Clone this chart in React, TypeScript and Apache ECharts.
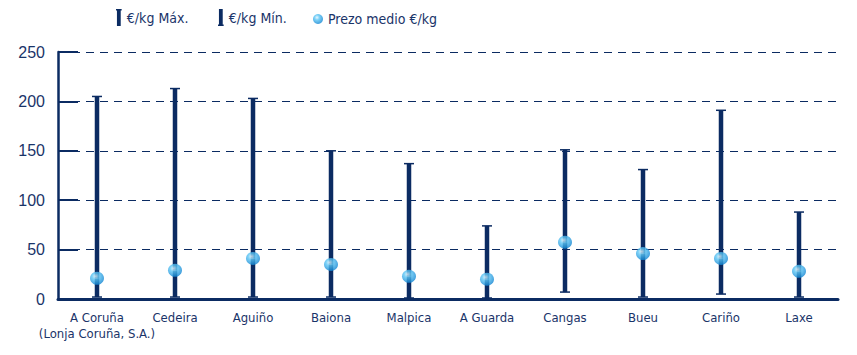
import React, { useEffect, useRef } from "react";
import * as echarts from "echarts";

const categories = [
  "A Coruña\n(Lonja Coruña, S.A.)",
  "Cedeira",
  "Aguiño",
  "Baiona",
  "Malpica",
  "A Guarda",
  "Cangas",
  "Bueu",
  "Cariño",
  "Laxe",
];
const maxValues = [205, 213, 203, 150, 137, 74, 151, 131, 191, 88];
const minValues = [2, 2, 2, 2, 1, 1, 7, 2, 5, 2];
const meanValues = [21, 29, 41, 35, 23, 20, 57.5, 46, 41, 28];
const yTicks = { min: 0, max: 250, interval: 50 };
const seriesNames = ["€/kg Máx.", "€/kg Mín.", "Prezo medio €/kg"];

const NAVY = "#0b2b62";
const TEXT = "#1a3469";
const NARROW = "'DejaVu Sans Condensed', 'Liberation Sans Narrow', sans-serif";
const FONT = "'Liberation Sans', Arial, sans-serif";

const maxIcon = "path://M0,0 L6,0 L6,1.5 L5,1.5 L5,18 L1,18 L1,1.5 L0,1.5 Z";
const minIcon = "path://M1,0 L5,0 L5,16.5 L6,16.5 L6,18 L0,18 L0,16.5 L1,16.5 Z";

const dotGradient = () =>
  new echarts.graphic.RadialGradient(0.4, 0.35, 0.7, [
    { offset: 0, color: "#e6f7ff" },
    { offset: 0.35, color: "#5cc6f5" },
    { offset: 1, color: "#0a7fcf" },
  ]);

function makeRender(capAtTop: boolean) {
  return (params: any, api: any) => {
    const x = api.value(0);
    const lo = api.value(1);
    const hi = api.value(2);
    const pTop = api.coord([x, hi]);
    const pBot = api.coord([x, lo]);
    const capY = capAtTop ? pTop[1] : pBot[1];
    return {
      type: "group",
      children: [
        {
          type: "line",
          shape: { x1: pTop[0], y1: pTop[1], x2: pBot[0], y2: pBot[1] },
          style: { stroke: NAVY, lineWidth: 4.5 },
        },
        {
          type: "line",
          shape: { x1: pTop[0] - 5, y1: capY, x2: pTop[0] + 5, y2: capY },
          style: { stroke: NAVY, lineWidth: 1.5 },
        },
      ],
    };
  };
}

export default function App() {
  const ref = useRef<HTMLDivElement>(null);
  useEffect(() => {
    if (!ref.current) return;
    const chart = echarts.init(ref.current, undefined, { renderer: "svg" });
    const maxData = categories.map((_, i) => [i, meanValues[i], maxValues[i]]);
    const minData = categories.map((_, i) => [i, minValues[i], meanValues[i]]);
    const legendText = { color: TEXT, fontSize: 14, fontFamily: NARROW };
    chart.setOption({
      animation: false,
      backgroundColor: "#ffffff",
      textStyle: { fontFamily: FONT },
      legend: [
        {
          top: 9,
          left: 116,
          padding: 0,
          itemWidth: 6,
          itemHeight: 17,
          textStyle: legendText,
          data: [{ name: seriesNames[0], icon: maxIcon, itemStyle: { color: NAVY } }],
        },
        {
          top: 9,
          left: 218,
          padding: 0,
          itemWidth: 6,
          itemHeight: 17,
          textStyle: legendText,
          data: [{ name: seriesNames[1], icon: minIcon, itemStyle: { color: NAVY } }],
        },
        {
          top: 12,
          left: 313,
          padding: 0,
          itemWidth: 10,
          itemHeight: 11,
          textStyle: legendText,
          data: [{ name: seriesNames[2], icon: "circle" }],
        },
      ],
      grid: { left: 58, right: 19, top: 52, bottom: 56, containLabel: false },
      xAxis: {
        type: "category",
        data: categories,
        axisLine: { lineStyle: { color: NAVY, width: 3 } },
        axisTick: { show: false },
        axisLabel: { color: TEXT, fontSize: 13, fontFamily: NARROW, margin: 10, lineHeight: 16, interval: 0 },
      },
      yAxis: {
        type: "value",
        min: yTicks.min,
        max: yTicks.max,
        interval: yTicks.interval,
        axisLine: { show: true, lineStyle: { color: NAVY, width: 2.5 } },
        axisTick: { show: true, inside: true, length: 20, lineStyle: { color: NAVY, width: 2 } },
        axisLabel: { color: TEXT, fontSize: 16, fontFamily: FONT, margin: 13 },
        splitLine: { show: true, lineStyle: { color: NAVY, width: 1.2, type: [8, 6] } },
      },
      series: [
        {
          name: seriesNames[0],
          type: "custom",
          renderItem: makeRender(true),
          encode: { x: 0, y: [1, 2] },
          data: maxData,
          itemStyle: { color: NAVY },
          z: 2,
        },
        {
          name: seriesNames[1],
          type: "custom",
          renderItem: makeRender(false),
          encode: { x: 0, y: [1, 2] },
          data: minData,
          itemStyle: { color: NAVY },
          z: 2,
        },
        {
          name: seriesNames[2],
          type: "scatter",
          data: meanValues,
          symbol: "circle",
          symbolSize: [14, 13],
          itemStyle: { color: dotGradient() },
          z: 5,
        },
      ],
    });
    return () => chart.dispose();
  }, []);
  return (
    <div
      ref={ref}
      style={{ position: "fixed", left: 0, top: 0, width: 857, height: 355 }}
    />
  );
}
